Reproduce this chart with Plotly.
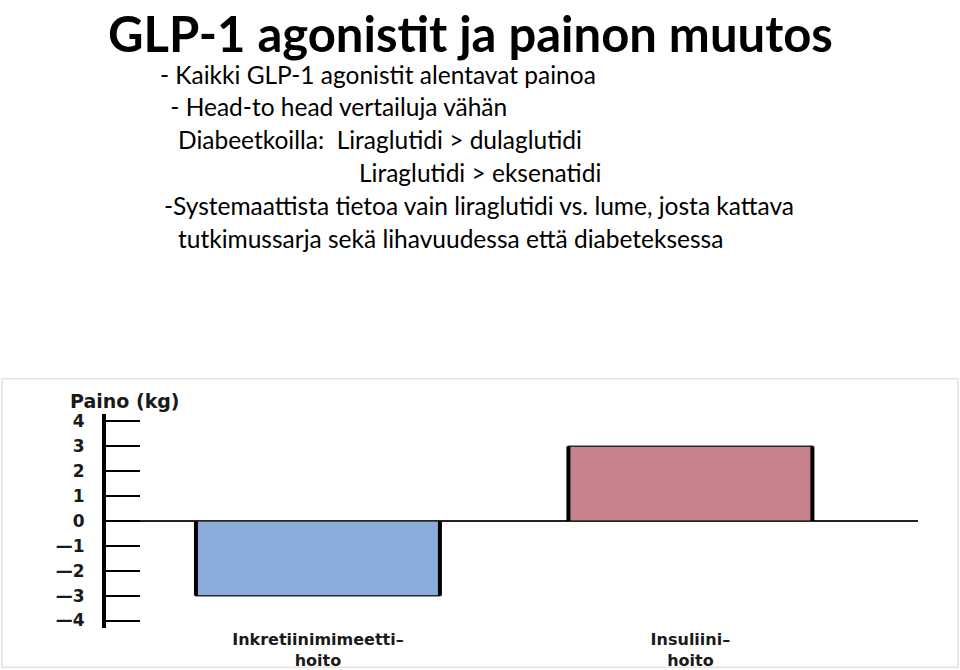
import plotly.graph_objects as go

# ---- data ----
categories = ["Inkretiinimimeetti–<br>hoito", "Insuliini–<br>hoito"]
weight_change = [-3, 3]
bar_colors = ["#8aacdb", "#c5828a"]
y_tickvals = [-4, -3, -2, -1, 0, 1, 2, 3, 4]
y_ticktext = ["—4", "—3", "—2", "—1", "0", "1", "2", "3", "4"]
title_text = "GLP-1 agonistit ja painon muutos"
body_lines = [
    "- Kaikki GLP-1 agonistit alentavat painoa",
    " - Head-to head vertailuja vähän",
    "Diabeetkoilla:  Liraglutidi > dulaglutidi",
    "Liraglutidi > eksenatidi",
    "-Systemaattista tietoa vain liraglutidi vs. lume, josta kattava",
    "tutkimussarja sekä lihavuudessa että diabeteksessa",
]
axis_title = "Paino (kg)"

# ---- layout geometry (pixels) ----
W, H = 960, 670
ML, MR, MT, MB = 106, 42, 413.5, 41.5
PW, PH = W - ML - MR, H - MT - MB


def px(x):
    return (x - ML) / PW


def py(y):
    return (H - MB - y) / PH


body_x = [158, 162, 176, 357, 162, 176]
body_y = [72, 105, 138, 171, 204, 237]

bar_w = 0.655
x_idx = list(range(len(categories)))

fig = go.Figure()
fig.add_trace(go.Bar(
    x=x_idx, y=weight_change, width=bar_w,
    marker=dict(color=bar_colors, line=dict(color="#2a2a2a", width=1.5)),
    showlegend=False, hoverinfo="skip",
))
# thick dark side edges of the bars
for i, v in zip(x_idx, weight_change):
    fig.add_trace(go.Scatter(
        x=[i - bar_w / 2, i - bar_w / 2, None, i + bar_w / 2, i + bar_w / 2],
        y=[0, v, None, 0, v],
        mode="lines", line=dict(color="#000000", width=4),
        showlegend=False, hoverinfo="skip",
    ))

annotations = [
    dict(text=f"<b>{title_text}</b>", x=px(107), y=py(1), xref="paper", yref="paper",
         xanchor="left", yanchor="top", showarrow=False, borderpad=0,
         font=dict(family="Lato", size=49, color="#000000")),
    dict(text=f"<b>{axis_title}</b>", x=px(68), y=py(400), xref="paper", yref="paper",
         xanchor="left", yanchor="middle", showarrow=False,
         font=dict(family="DejaVu Sans", size=19, color="#1a1a1a")),
]
for t, bx, by in zip(body_lines, body_x, body_y):
    annotations.append(dict(
        text=t, x=px(bx), y=py(by), xref="paper", yref="paper",
        xanchor="left", yanchor="middle", showarrow=False,
        font=dict(family="Lato", size=24.5, color="#000000")))

fig.update_layout(
    width=W, height=H,
    margin=dict(l=ML, r=MR, t=MT, b=MB, autoexpand=False),
    paper_bgcolor="white", plot_bgcolor="white",
    annotations=annotations,
    shapes=[dict(type="rect", xref="paper", yref="paper",
                 x0=px(2), x1=px(958), y0=py(668), y1=py(378),
                 line=dict(color="#e3e3e3", width=1.5), layer="below")],
    xaxis=dict(range=[-0.569, 1.611], tickvals=x_idx, ticktext=[f"<b>{c}</b>" for c in categories],
               showgrid=False, zeroline=False, showline=False, ticks="", automargin=False,
               ticklabelstandoff=0,
               tickfont=dict(family="DejaVu Sans", size=16, color="#1a1a1a")),
    yaxis=dict(range=[-4.3, 4.3], tickvals=y_tickvals,
               ticktext=[f"<b>{t}</b>" for t in y_ticktext],
               ticks="inside", ticklen=34, tickwidth=2, tickcolor="#000000",
               showline=True, linewidth=4, linecolor="#000000",
               zeroline=True, zerolinewidth=1.5, zerolinecolor="#222222",
               showgrid=False, ticklabelstandoff=14, automargin=False,
               tickfont=dict(family="DejaVu Sans", size=17, color="#1a1a1a")),
)

fig.write_html("out.html")
